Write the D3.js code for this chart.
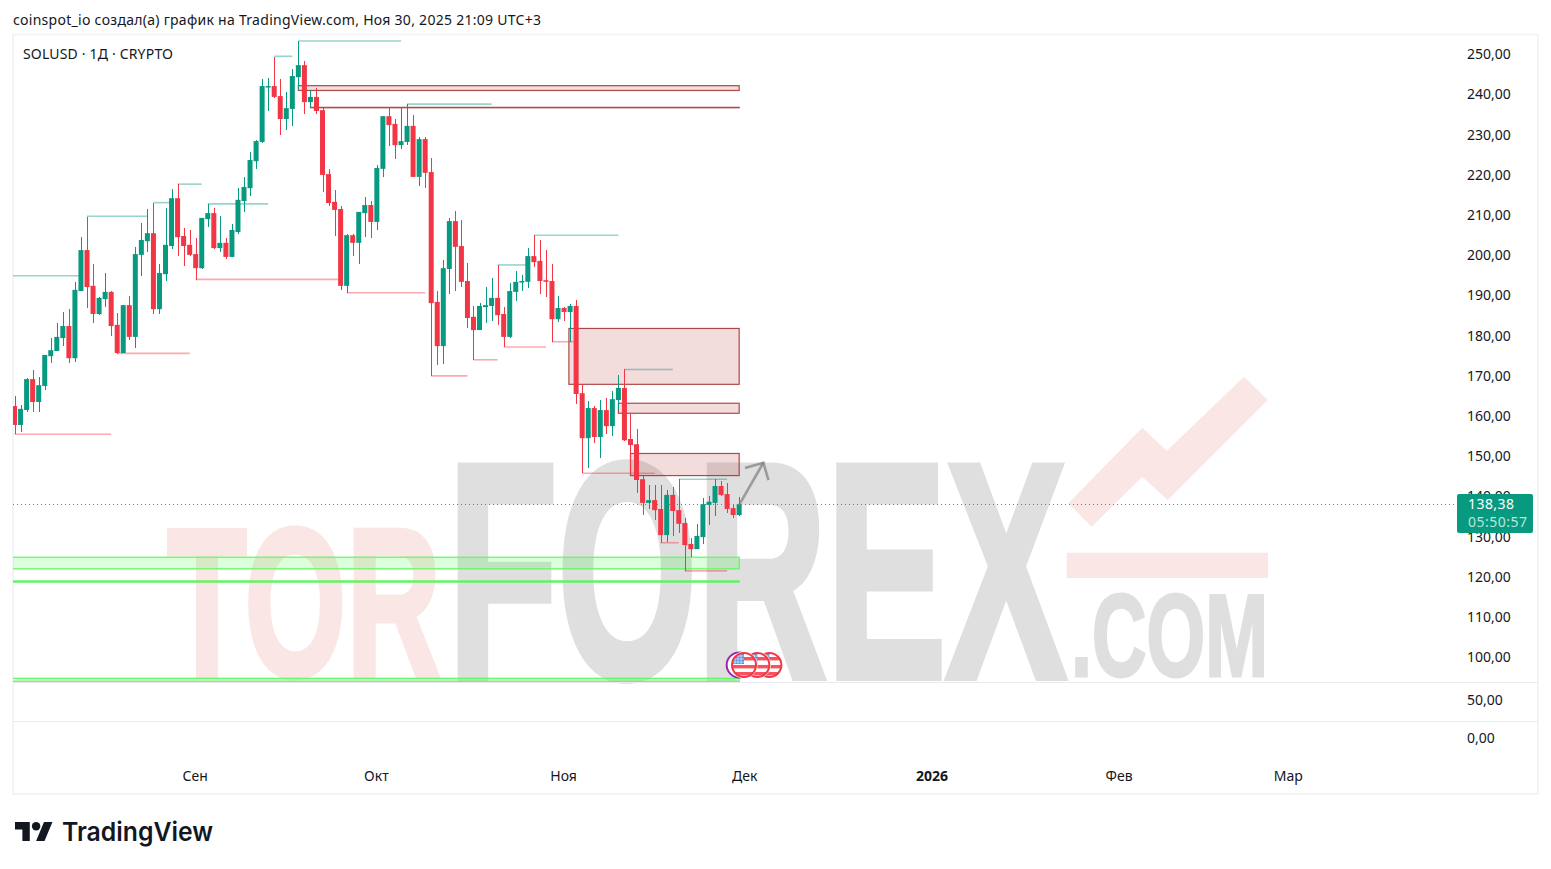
<!DOCTYPE html>
<html><head><meta charset="utf-8">
<script src="https://cdn.jsdelivr.net/npm/d3@7/dist/d3.min.js"></script>
<style>
html,body{margin:0;padding:0;background:#fff;overflow:hidden}
text{font-family:"Noto Sans","Open Sans",sans-serif;fill:#131722}
</style></head><body><svg id="c" width="1551" height="869"></svg>
<script>
const firstDay = Date.UTC(2025,7,2);
const highs = [165.3,163.0,169.8,171.8,170.0,175.5,179.7,183.5,186.2,186.9,
193.7,204.8,209.8,198.1,189.9,195.9,191.4,185.9,187.9,190.2,
202.4,208.3,211.8,213.3,198.1,212.1,216.8,218.0,207.1,206.6,
204.6,209.6,213.0,212.1,210.1,204.6,208.1,217.0,219.8,226.0,
229.0,244.1,244.4,249.6,244.1,240.9,246.6,253.6,248.6,241.4,
241.9,236.9,221.8,216.5,212.6,205.6,205.6,211.1,214.8,213.8,
222.8,234.9,237.2,234.2,237.2,237.9,235.2,229.7,229.7,224.5,
191.4,199.1,209.6,211.3,209.1,198.4,187.7,188.4,192.4,194.6,
197.9,187.4,193.4,196.4,195.4,202.1,205.3,204.1,201.6,198.1,
190.2,187.4,188.2,189.2,168.3,164.0,162.8,164.3,164.8,166.5,
170.5,172.0,160.8,157.1,145.4,143.1,143.1,143.1,141.9,142.6,
144.6,134.9,130.0,133.5,139.9,140.4,144.6,144.1,143.6,138.4,140.1];
const lows = [155.8,156.4,161.3,161.3,161.3,166.8,173.5,176.5,177.7,173.5,
173.7,191.4,187.2,183.5,185.4,187.4,180.2,175.7,175.9,179.2,
177.2,195.1,201.1,185.7,185.7,193.9,201.9,200.1,197.6,200.1,
194.1,196.9,207.3,201.9,201.1,199.4,199.9,205.6,211.1,215.0,
221.8,228.2,236.2,239.4,230.2,231.5,232.5,241.4,235.4,236.9,
235.4,216.0,212.6,205.1,191.7,190.9,200.1,198.1,204.8,204.6,
206.6,219.8,227.5,224.2,226.7,227.7,219.8,217.5,217.0,170.3,
173.0,173.3,190.7,191.4,192.4,182.2,174.2,181.7,183.5,183.9,
183.0,177.5,179.7,188.9,191.4,192.2,197.4,190.7,189.9,178.7,
183.7,183.9,178.7,163.3,146.1,147.4,153.6,149.9,155.8,155.3,
162.1,154.1,146.1,141.2,135.7,137.2,134.4,128.7,129.0,130.5,
131.2,121.8,125.2,127.2,128.5,133.2,135.4,140.4,136.2,134.9,135.4];
const opens = [162.8,158.1,161.8,169.5,163.8,167.8,175.2,176.5,179.7,182.7,
174.7,191.4,201.6,192.7,185.7,189.4,191.2,183.0,176.0,187.9,
180.0,200.4,203.8,205.8,186.9,195.6,202.6,214.5,205.1,202.9,
200.6,197.1,209.3,210.8,202.1,203.4,199.9,206.1,213.8,217.0,
223.7,228.5,242.2,242.4,239.9,234.2,236.7,244.6,247.6,238.4,
239.7,236.4,220.5,213.6,211.8,192.7,205.3,203.4,210.8,212.8,
208.6,221.8,234.9,233.0,227.7,228.5,232.5,219.8,229.2,221.0,
188.7,177.7,196.9,208.8,202.6,193.9,185.0,181.7,187.4,187.7,
189.7,185.7,180.0,191.2,193.7,193.7,200.1,198.9,194.1,193.9,
184.4,187.2,186.2,187.7,166.0,154.8,162.3,155.1,161.8,157.8,
164.3,167.3,154.6,153.3,144.6,138.7,139.4,137.2,130.7,140.7,
136.9,133.7,128.5,127.2,130.2,138.2,138.7,142.9,140.9,137.4,135.7];
const closes = [158.1,162.1,169.5,163.8,168.0,175.5,176.7,180.0,182.7,174.7,
191.7,201.6,192.4,185.7,189.7,191.2,182.7,176.0,187.9,180.0,
200.6,204.1,205.8,186.9,195.9,202.9,214.5,204.8,202.6,200.4,
197.1,209.6,210.8,202.1,203.4,199.9,206.6,214.1,217.3,224.0,
228.7,242.4,242.4,239.7,234.2,236.9,244.9,247.6,238.4,239.7,
236.2,220.3,213.3,211.6,192.7,205.3,203.4,211.1,212.8,208.6,
222.0,234.9,232.7,227.7,228.7,232.5,219.8,229.2,220.8,188.4,
177.7,197.1,208.8,202.4,193.7,184.7,181.7,187.7,187.9,189.7,
185.4,180.0,191.4,193.7,193.9,200.1,198.6,193.9,193.7,184.4,
187.2,186.2,187.7,165.8,154.8,162.3,155.1,161.8,157.8,164.5,
167.3,154.3,153.1,144.4,138.7,139.4,136.9,130.7,140.7,136.7,
133.5,128.2,127.2,130.5,138.4,139.0,142.9,140.7,137.2,135.7,138.38];

// horizontal rays: day index from / to, price
const highRayFrom  = [-1,12,23,27,32,43,47,65,80,86,101,110];
const highRayTo    = [11,22,26,31,42,46,64,79,85,100,109,118];
const highRayPrice = [195.2,210.0,213.4,218.0,213.1,249.8,253.6,237.9,197.9,205.3,171.9,144.6];
const lowRayFrom   = [0,17,30,55,69,76,81,89,94,107,111];
const lowRayTo     = [16,29,54,68,75,80,88,93,106,110,118];
const lowRayPrice  = [155.8,175.9,194.3,191.0,170.3,174.3,177.5,178.8,146.1,128.8,121.8];

// zones: starting day index, upper and lower price; all run up to the last candle
const redZoneFrom   = [47,49,91.8,100,102];
const redZoneTop    = [242.5,237.1,182.1,163.5,151.0];
const redZoneBottom = [241.3,237.1,168.2,161.0,145.5];
const greenZoneFrom   = [-1,-1,-1];
const greenZoneTop    = [125.2,119.3,77];
const greenZoneBottom = [122.3,119.0,73.5];

const yTicks = [250,240,230,220,210,200,190,180,170,160,150,140,130,120,110,100,50,0];
const monthTicks = [Date.UTC(2025,8,1),Date.UTC(2025,9,1),Date.UTC(2025,10,1),Date.UTC(2025,11,1),Date.UTC(2026,0,1),Date.UTC(2026,1,1),Date.UTC(2026,2,1)];
const monthLabels = ["Сен","Окт","Ноя","Дек","2026","Фев","Мар"];
const lastPrice = 138.38, countdown = "05:50:57";
const arrowIdx   = [120,124,120.97,124,124.85];
const arrowPrice = [138.2,148.7,147.4,148.7,144.4];
const eventIdx = [125,123,120.8];

const GREEN="#089981", RED="#f23645";
const svg=d3.select("#c");
const x=d3.scaleUtc().domain([monthTicks[0],monthTicks[6]]).range([195.7,1288.7]);
const y=d3.scaleLinear().domain([0,50,100,250]).range([739.5,701.5,658.5,55.5]);
const dayX=i=>x(new Date(firstDay+i*864e5));
const fmt=d3.formatLocale({decimal:",",thousands:" ",grouping:[3],currency:["",""]}).format(".2f");

const defs=svg.append("defs");
defs.append("clipPath").attr("id","pane").append("rect").attr("x",13).attr("y",35).attr("width",1524).attr("height",647);
defs.append("clipPath").attr("id","flag").append("circle").attr("r",11.5);

// frame
svg.append("rect").attr("x",13).attr("y",34.5).attr("width",1525).attr("height",759.5).attr("fill","#fff").attr("stroke","#f0f1f4").attr("stroke-width",1.5);

// watermark
const wm=svg.append("g");
const wmText=(s,x0,w,base,size,col,sw)=>wm.append("text").text(s).attr("x",x0).attr("y",base)
 .attr("textLength",w).attr("lengthAdjust","spacingAndGlyphs")
 .style("font-family",'"Liberation Sans Narrow","Liberation Sans",sans-serif').style("font-weight",700)
 .style("font-size",size+"px").style("fill",col).style("stroke",col).style("stroke-width",sw);
wmText("TOR",167,274,676,211,"#fbe6e6",5);
wmText("FOREX",448,618,677,306,"#dfdfdf",8);
wmText(".COM",1071,197,676,117,"#dfdfdf",3);
wm.append("polygon").attr("points","1244,376.7 1267.7,400 1167.7,500 1142.3,476.7 1091.7,526.7 1068.3,503.3 1142.3,427.7 1166.7,451").attr("fill","#fbe6e6");
wm.append("rect").attr("x",1066.7).attr("y",552.7).attr("width",201.3).attr("height",25.3).attr("fill","#fbe6e6");

// separators
svg.selectAll("line.sep").data([682.5,721.5]).join("line").attr("class","sep")
 .attr("x1",13).attr("x2",1538).attr("y1",d=>d).attr("y2",d=>d).attr("stroke","#e8eaef");

const pane=svg.append("g").attr("clip-path","url(#pane)");
const lastIdx=closes.length-1;
const zone=(from,top,bot,fill,stroke,sw)=>pane.append("g").selectAll("rect").data(from).join("rect")
 .attr("x",d=>dayX(d)).attr("width",d=>dayX(lastIdx)-dayX(d))
 .attr("y",(d,i)=>y(top[i])).attr("height",(d,i)=>Math.max(0.4,y(bot[i])-y(top[i])))
 .attr("fill",fill).attr("stroke",stroke).attr("stroke-width",sw);
zone(redZoneFrom,redZoneTop,redZoneBottom,"rgba(178,40,40,0.16)","rgba(160,45,45,0.85)",1.2);
zone(greenZoneFrom,greenZoneTop,greenZoneBottom,"rgba(0,255,0,0.14)","#5cf75c",1.2);

const ray=(from,to,price,col)=>pane.append("g").selectAll("line").data(from).join("line")
 .attr("x1",d=>dayX(d)).attr("x2",(d,i)=>dayX(to[i]))
 .attr("y1",(d,i)=>y(price[i])).attr("y2",(d,i)=>y(price[i]))
 .attr("stroke",col).attr("stroke-width",1.6);
ray(highRayFrom,highRayTo,highRayPrice,"rgba(8,153,129,0.42)");
ray(lowRayFrom,lowRayTo,lowRayPrice,"rgba(242,54,69,0.42)");

// candles
const colr=i=>closes[i]>=opens[i]?GREEN:RED;
const candles=pane.append("g").selectAll("g").data(d3.range(closes.length)).join("g");
candles.append("line").attr("x1",dayX).attr("x2",dayX)
 .attr("y1",i=>y(highs[i])).attr("y2",i=>y(lows[i])).attr("stroke",colr).attr("stroke-width",1)
 .attr("shape-rendering","crispEdges").attr("transform","translate(0.5,0)");
candles.append("rect").attr("x",i=>dayX(i)-2.5).attr("width",5)
 .attr("y",i=>y(Math.max(opens[i],closes[i])))
 .attr("height",i=>Math.max(1.5,Math.abs(y(opens[i])-y(closes[i])))).attr("fill",colr);

// last price dotted line
const lastY=Math.floor(y(lastPrice))+0.5;
svg.append("line").attr("x1",13).attr("x2",1457).attr("y1",lastY).attr("y2",lastY)
 .attr("stroke","#06ab90").attr("stroke-dasharray","1.4 2.6").attr("stroke-width",1.2).attr("shape-rendering","crispEdges");

// arrow
const ap=i=>dayX(arrowIdx[i])+","+y(arrowPrice[i]);
svg.append("polyline").attr("points",[ap(0),ap(1)].join(" ")).attr("fill","none").attr("stroke","rgba(125,125,125,0.7)").attr("stroke-width",2.6);
svg.append("polyline").attr("points",[ap(2),ap(3),ap(4)].join(" ")).attr("fill","none").attr("stroke","rgba(125,125,125,0.7)").attr("stroke-width",2.6);

// events
const ev=svg.append("g").attr("transform","translate(0,665)");
ev.append("circle").attr("cx",dayX(120)).attr("r",12.5).attr("fill","#fff").attr("stroke","#9c27b0").attr("stroke-width",2);
const flags=ev.selectAll("g.f").data(eventIdx).join("g").attr("class","f").attr("transform",d=>`translate(${dayX(d)},0)`);
flags.append("circle").attr("r",13.5).attr("fill","#fff");
const fg=flags.append("g").attr("clip-path","url(#flag)");
fg.selectAll("rect.s").data([-8,0,7]).join("rect").attr("class","s").attr("x",-12).attr("width",24).attr("y",d=>d).attr("height",3.4).attr("fill","#f7525f");
fg.append("rect").attr("x",-12).attr("y",-12).attr("width",12).attr("height",11).attr("fill","#4a8fe8");
fg.selectAll("line.g").data([-9,-6,-3]).join("line").attr("class","g").attr("x1",d=>d).attr("x2",d=>d).attr("y1",-12).attr("y2",-1).attr("stroke","#d5e4fb").attr("stroke-width",0.8);
fg.selectAll("line.h").data([-9,-6,-3]).join("line").attr("class","h").attr("y1",d=>d).attr("y2",d=>d).attr("x1",-12).attr("x2",0).attr("stroke","#d5e4fb").attr("stroke-width",0.8);
flags.append("circle").attr("r",12).attr("fill","none").attr("stroke",RED).attr("stroke-width",2);

// axes
const ya=svg.append("g").attr("transform","translate(1467,0)")
 .call(d3.axisRight(y).tickValues(yTicks).tickSize(0).tickPadding(0).tickFormat(fmt));
ya.select(".domain").remove();
ya.selectAll("text").style("font-size","14px").style("fill","#131722").attr("transform","translate(0,-1.3)");
const xa=svg.append("g").attr("transform","translate(-1,771)")
 .call(d3.axisBottom(x).tickValues(monthTicks.map(d=>new Date(d))).tickSize(0).tickPadding(0).tickFormat((d,i)=>monthLabels[i]));
xa.select(".domain").remove();
xa.selectAll("text").style("font-size","14px").style("fill","#131722").style("font-weight",(d,i)=>monthLabels[i]==="2026"?700:400);

// price tag
svg.append("rect").attr("x",1457).attr("y",494).attr("width",76).attr("height",39).attr("rx",2).attr("fill",GREEN);
svg.append("text").attr("x",1468).attr("y",509).attr("textLength",46).text(fmt(lastPrice)).style("font-size","14px").style("fill","#fff");
svg.append("text").attr("x",1468).attr("y",527).attr("textLength",59).text(countdown).style("font-size","14px").style("fill","#b8e6dc");

// titles
svg.append("text").attr("x",13).attr("y",25).attr("textLength",528).text("coinspot_io создал(а) график на TradingView.com, Ноя 30, 2025 21:09 UTC+3").style("font-size","14px");
svg.append("text").attr("x",23).attr("y",59).attr("textLength",150).text("SOLUSD · 1Д · CRYPTO").style("font-size","14px");

// logo
svg.append("path").attr("transform","translate(15,817.8) scale(1.055)").attr("d","M14 22H7V11H0V4h14v18zM28 22h-8l7.5-18h8L28 22z").attr("fill","#131722");
svg.append("circle").attr("cx",15+20*1.055).attr("cy",817.8+8*1.055).attr("r",4*1.055).attr("fill","#131722");
svg.append("text").attr("x",62).attr("y",841).attr("textLength",151).attr("lengthAdjust","spacingAndGlyphs").text("TradingView")
 .style("font-family","Inter,Lato,sans-serif").style("font-weight",600).style("font-size","26px");
</script></body></html>
